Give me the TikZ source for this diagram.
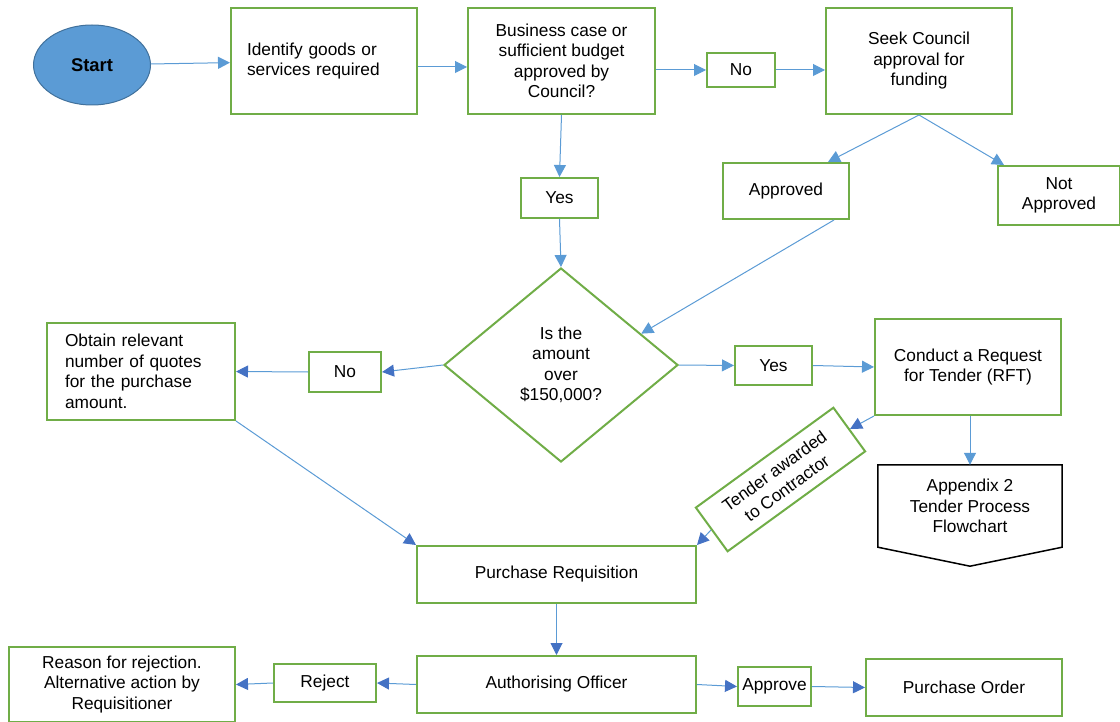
\documentclass[tikz,border=0pt]{standalone}
\usepackage{fontspec}
\setmainfont{Liberation Sans}
\usetikzlibrary{shapes.geometric,arrows.meta,calc}
\definecolor{gbox}{HTML}{70AD47}
\definecolor{bline}{HTML}{5B9BD5}
\definecolor{bdark}{HTML}{4472C4}
\definecolor{sfill}{HTML}{5B9BD5}
\definecolor{sdraw}{HTML}{41719C}
\begin{document}
\begin{tikzpicture}[x=1pt,y=-1pt,
  box/.style={draw=gbox, line width=2pt, fill=white, align=center, inner sep=0pt, font=\fontsize{17.3}{20.5}\selectfont},
  conn/.style={draw=bline, line width=1pt, -{Triangle[length=12pt,width=12pt,color=bline]}},
  connd/.style={draw=bline, line width=1pt, -{Triangle[length=12pt,width=12pt,color=bdark]}}]
\useasboundingbox (0,0) rectangle (1120,722);

\node[ellipse, draw=sdraw, fill=sfill, line width=1pt, minimum width=117pt, minimum height=80pt, inner sep=0pt, font=\fontsize{18.4}{20}\selectfont\bfseries] (start) at (92,65) {Start};
\node[box, minimum width=186pt, minimum height=106pt, text width=154pt, align=left] (ident) at (324,61) {Identify goods or\\services required};
\node[box, minimum width=187pt, minimum height=106pt] (bus) at (561.5,61) {Business case or\\sufficient budget\\approved by\\Council?};
\node[box, minimum width=68pt, minimum height=34pt] (no1) at (741,70) {No};
\node[box, minimum width=186pt, minimum height=106pt] (seek) at (919,61) {Seek Council\\approval for\\funding};
\node[box, minimum width=126pt, minimum height=56pt] (appr) at (786,191) {Approved};
\node[box, minimum width=122pt, minimum height=59pt] (notappr) at (1059,195.5) {Not\\Approved};
\node[box, minimum width=77pt, minimum height=40pt] (yes1) at (559.5,198) {Yes};
\node[box, diamond, minimum width=234pt, minimum height=194pt] (dia) at (561,365) {Is the\\amount\\over\\\$150,000?};
\node[box, minimum width=72pt, minimum height=40pt] (no2) at (345,372) {No};
\node[box, minimum width=188pt, minimum height=97pt, text width=152pt, align=left] (obtain) at (141,371.5) {Obtain relevant\\number of quotes\\for the purchase\\amount.};
\node[box, minimum width=77pt, minimum height=39pt] (yes2) at (773.5,365.5) {Yes};
\node[box, minimum width=186pt, minimum height=96pt] (rft) at (968,367) {Conduct a Request\\for Tender (RFT)};
\node[align=center, inner sep=0pt, minimum width=184pt, minimum height=82pt, font=\fontsize{17.3}{20.5}\selectfont] (app2) at (970,506) {Appendix 2\\Tender Process\\Flowchart};
\draw[black, line width=1.5pt] (app2.north west) -- (app2.north east) -- (app2.south east) -- ($(app2.south)+(0,19)$) -- (app2.south west) -- cycle;
\node[box, rotate=36, minimum width=170pt, minimum height=54pt, font=\fontsize{17.3}{21}\selectfont] (tender) at (780.5,479.5) {Tender awarded\\to Contractor};
\node[box, minimum width=279pt, minimum height=57pt] (preq) at (556.5,574.5) {Purchase Requisition};
\node[box, minimum width=279pt, minimum height=57pt] (auth) at (556.5,684.5) {Authorising Officer};
\node[box, minimum width=102pt, minimum height=38pt] (reject) at (325,683) {Reject};
\node[box, minimum width=226pt, minimum height=75pt] (reason) at (122,684.5) {Reason for rejection.\\Alternative action by\\Requisitioner};
\node[box, minimum width=73pt, minimum height=39pt] (approve) at (774.5,686.5) {Approve};
\node[box, minimum width=196pt, minimum height=57pt] (po) at (964,687.5) {Purchase Order};

\draw[conn] (start) -- (ident);
\draw[conn] ([yshift=-6pt]ident.east) -- ([yshift=-6pt]bus.west);
\draw[conn] (bus.east |- no1.west) -- (no1.west);
\draw[conn] (no1.east) -- (seek.west |- no1.east);
\draw[conn] (seek.south) -- ([xshift=42pt]appr.north);
\draw[conn] (seek.south) -- ([xshift=7pt]notappr.north west);
\draw[conn] ([xshift=-16pt]appr.south east) -- ($(dia.north)!0.68!(dia.east)$);
\draw[conn] (bus.south) -- (yes1.north);
\draw[conn] (yes1.south) -- (dia.north);
\draw[connd] (dia.west) -- (no2.east);
\draw[connd] (no2.west) -- (obtain.east);
\draw[conn] (dia.east) -- (yes2.west);
\draw[conn] (yes2.east) -- (rft.west);
\draw[conn] (app2.north |- rft.south) -- (app2.north);
\draw[connd] (rft.south west) -- (tender.east);
\draw[connd] (tender.west) -- (preq.north east);
\draw[connd] (obtain.south east) -- (preq.north west);
\draw[connd] (preq.south) -- (auth.north);
\draw[connd] (auth.west) -- (reject.east);
\draw[connd] (reject.west) -- (reason.east);
\draw[connd] (auth.east) -- (approve.west);
\draw[connd] (approve.east) -- (po.west);
\end{tikzpicture}
\end{document}
